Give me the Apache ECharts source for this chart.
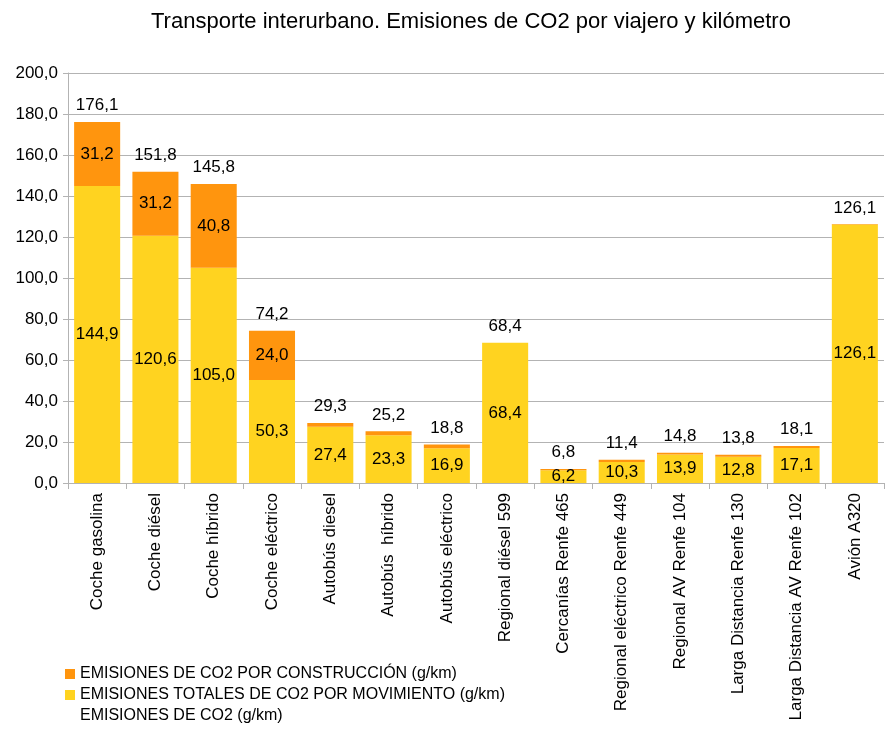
<!DOCTYPE html>
<html>
<head>
<meta charset="utf-8">
<script src="https://cdn.jsdelivr.net/npm/echarts@6/dist/echarts.min.js"></script>
<style>
  html, body { margin: 0; padding: 0; background: #fff; }
  #main { width: 886px; height: 731px; }
</style>
</head>
<body>
<div id="main"></div>
<script>
// categorias
const categorias = [
  'Coche gasolina', 'Coche diésel', 'Coche híbrido', 'Coche eléctrico',
  'Autobús diesel', 'Autobús  híbrido', 'Autobús eléctrico', 'Regional diésel 599',
  'Cercanías Renfe 465', 'Regional eléctrico Renfe 449', 'Regional AV Renfe 104',
  'Larga Distancia Renfe 130', 'Larga Distancia AV Renfe 102', 'Avión A320'
];
// emisiones por movimiento
const movimiento = [144.9, 120.6, 105.0, 50.3, 27.4, 23.3, 16.9, 68.4, 6.2, 10.3, 13.9, 12.8, 17.1, 126.1];
// emisiones por construccion
const construccion = [31.2, 31.2, 40.8, 24.0, 1.9, 1.9, 1.9, 0, 0.6, 1.1, 0.9, 1.0, 1.0, 0.3];
// totales
const totales = [176.1, 151.8, 145.8, 74.2, 29.3, 25.2, 18.8, 68.4, 6.8, 11.4, 14.8, 13.8, 18.1, 126.1];

const nombreConstruccion = 'EMISIONES DE CO2 POR CONSTRUCCIÓN (g/km)';
const nombreMovimiento = 'EMISIONES TOTALES DE CO2 POR MOVIMIENTO (g/km)';
const nombreTotal = 'EMISIONES DE CO2 (g/km)';

const fuente = '"Liberation Sans", Arial, sans-serif';

function coma(v) {
  return v.toFixed(1).replace('.', ',');
}

const chart = echarts.init(document.getElementById('main'), null, { renderer: 'canvas' });

const option = {
  backgroundColor: '#fff',
  animation: false,
  textStyle: { fontFamily: fuente },
  title: {
    text: 'Transporte interurbano. Emisiones de CO2 por viajero y kilómetro',
    left: 146,
    top: 6,
    textStyle: { fontSize: 22, fontWeight: 'normal', color: '#000', fontFamily: fuente }
  },
  legend: {
    orient: 'vertical',
    left: 60,
    top: 661,
    itemWidth: 10,
    itemHeight: 10,
    itemGap: 5,
    icon: 'rect',
    textStyle: { fontSize: 16, color: '#000', fontFamily: fuente },
    data: [nombreConstruccion, nombreMovimiento, nombreTotal]
  },
  grid: {
    left: 68,
    right: 2,
    top: 73,
    bottom: 248,
    containLabel: false
  },
  xAxis: {
    type: 'category',
    data: categorias,
    axisLine: { show: true, lineStyle: { color: '#b3b3b3' } },
    axisTick: { show: true, length: 6, lineStyle: { color: '#b3b3b3' } },
    axisLabel: {
      rotate: 90,
      margin: 10,
      fontSize: 17,
      color: '#000',
      fontFamily: fuente,
      interval: 0
    }
  },
  yAxis: {
    type: 'value',
    min: 0,
    max: 200,
    interval: 20,
    axisLine: { show: true, lineStyle: { color: '#b3b3b3' } },
    axisTick: { show: true, length: 5, lineStyle: { color: '#b3b3b3' } },
    splitLine: { lineStyle: { color: '#b3b3b3' } },
    axisLabel: {
      margin: 10,
      fontSize: 17,
      color: '#000',
      fontFamily: fuente,
      formatter: function (v) { return coma(v); }
    }
  },
  series: [
    {
      name: nombreMovimiento,
      type: 'bar',
      stack: 'co2',
      data: movimiento,
      barCategoryGap: '21%',
      barGap: '-100%',
      itemStyle: { color: '#ffd320' },
      label: {
        show: true,
        position: 'inside',
        fontSize: 17,
        color: '#000',
        fontFamily: fuente,
        formatter: function (p) { return coma(p.value); }
      }
    },
    {
      name: nombreConstruccion,
      type: 'bar',
      stack: 'co2',
      data: construccion,
      itemStyle: { color: '#ff950e' },
      label: {
        show: true,
        position: 'inside',
        fontSize: 17,
        color: '#000',
        fontFamily: fuente,
        formatter: function (p) { return p.value >= 5 ? coma(p.value) : ''; }
      }
    },
    {
      name: nombreTotal,
      type: 'bar',
      data: totales,
      barGap: '-100%',
      itemStyle: { color: 'rgba(0,0,0,0)' },
      label: {
        show: true,
        position: 'top',
        distance: 8,
        fontSize: 17,
        color: '#000',
        fontFamily: fuente,
        formatter: function (p) { return coma(p.value); }
      },
      z: 3
    }
  ]
};

chart.setOption(option);
</script>
</body>
</html>
